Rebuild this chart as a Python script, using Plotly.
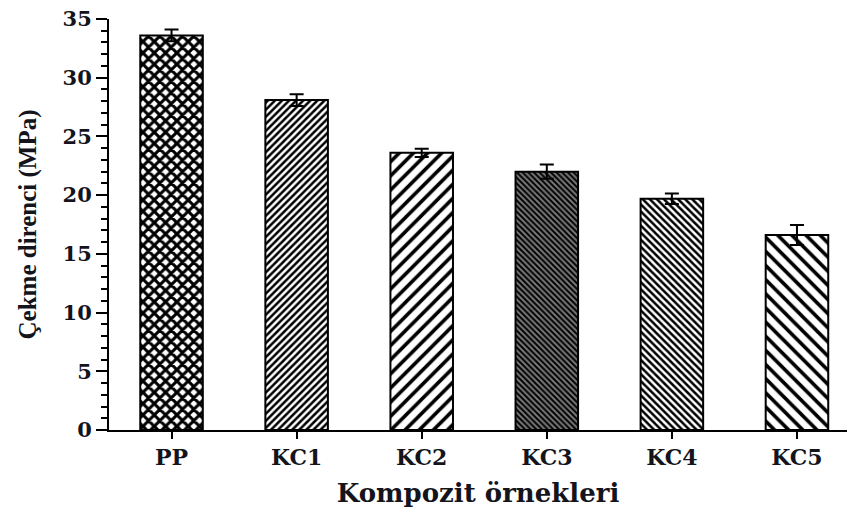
import plotly.graph_objects as go

# Tensile strength of PP and composite samples
samples = ["PP", "KC1", "KC2", "KC3", "KC4", "KC5"]
strength = [33.6, 28.1, 23.6, 22.0, 19.7, 16.6]
strength_err = [0.5, 0.5, 0.35, 0.6, 0.45, 0.85]

# Hatch styles per bar
hatch_shapes = ["x", "/", "/", "\\", "\\", "\\"]
hatch_sizes = [8, 5, 10, 4, 5, 10]
hatch_solidity = [0.62, 0.5, 0.36, 0.5, 0.5, 0.36]
hatch_bg = ["white", "white", "white", "#7a7a7a", "white", "white"]

SERIF = "Liberation Serif"
WIDE_SERIF = "DejaVu Serif"
TEXT = "#14141c"

fig = go.Figure()
fig.add_trace(go.Bar(
    x=samples,
    y=strength,
    width=0.5,
    marker=dict(
        color="white",
        line=dict(color="black", width=2),
        pattern=dict(
            shape=hatch_shapes,
            size=hatch_sizes,
            solidity=hatch_solidity,
            fgcolor="black",
            bgcolor=hatch_bg,
            fillmode="replace",
        ),
    ),
    error_y=dict(type="data", array=strength_err, visible=True,
                 color="black", thickness=2, width=7),
    showlegend=False,
))

# short stub of the x axis line to the left of the y axis
fig.add_shape(type="line", xref="paper", yref="y", x0=-0.016, x1=0, y0=0, y1=0,
              line=dict(color="black", width=2))

fig.update_layout(
    width=847,
    height=513,
    margin=dict(l=109, r=0, t=19, b=83),
    paper_bgcolor="white",
    plot_bgcolor="white",
    font=dict(family=WIDE_SERIF, color=TEXT),
    bargap=0.5,
)

fig.update_xaxes(
    range=[-0.5, 5.4],
    showline=True, linecolor="black", linewidth=2,
    ticks="outside", ticklen=7, tickwidth=2, tickcolor="black",
    tickfont=dict(family=WIDE_SERIF, size=22, color=TEXT, weight="bold"),
    showgrid=False,
    title=dict(text="<b>Kompozit örnekleri</b>",
               font=dict(family=WIDE_SERIF, size=26, color=TEXT),
               standoff=14),
)

fig.update_yaxes(
    range=[0, 35],
    dtick=5,
    showline=True, linecolor="black", linewidth=2,
    ticks="outside", ticklen=11, tickwidth=2, tickcolor="black",
    minor=dict(dtick=1, ticks="outside", ticklen=6, tickwidth=1.5, tickcolor="black"),
    tickfont=dict(family=WIDE_SERIF, size=21, color=TEXT, weight="bold"),
    showgrid=False, zeroline=False,
    title=dict(text="<b>Çekme direnci (MPa)</b>",
               font=dict(family=SERIF, size=25, color=TEXT),
               standoff=19),
)

fig.write_html("out.html")
